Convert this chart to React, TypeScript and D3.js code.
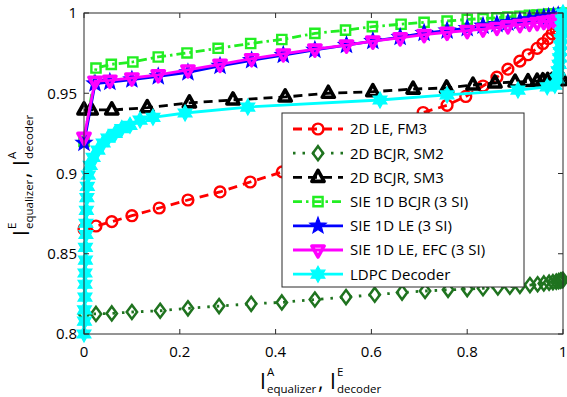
import React from 'react';
import * as d3 from 'd3';

const W = 567;
const H = 397;

const xTicks = [0, 0.2, 0.4, 0.6, 0.8, 1];
const xTickLabels = ['0', '0.2', '0.4', '0.6', '0.8', '1'];
const yTicks = [0.8, 0.85, 0.9, 0.95, 1];
const yTickLabels = ['0.8', '0.85', '0.9', '0.95', '1'];

const seriesNames = [
  '2D LE, FM3',
  '2D BCJR, SM2',
  '2D BCJR, SM3',
  'SIE 1D BCJR (3 SI)',
  'SIE 1D LE (3 SI)',
  'SIE 1D LE, EFC (3 SI)',
  'LDPC Decoder',
];

// 2D LE, FM3
const leFm3X = [0, 0.025, 0.058, 0.10, 0.157, 0.217, 0.284, 0.347, 0.414, 0.482, 0.547, 0.607, 0.660, 0.708, 0.758, 0.797, 0.833, 0.862, 0.885, 0.910, 0.927, 0.946, 0.958, 0.969, 0.977, 0.985, 0.991];
const leFm3Y = [0.8654, 0.8673, 0.870, 0.8737, 0.8785, 0.8835, 0.8885, 0.8947, 0.901, 0.909, 0.917, 0.925, 0.932, 0.938, 0.9425, 0.948, 0.9545, 0.960, 0.965, 0.970, 0.974, 0.978, 0.981, 0.984, 0.987, 0.990, 0.992];

// 2D BCJR, SM2
const sm2X = [0, 0.025, 0.058, 0.10, 0.159, 0.217, 0.282, 0.349, 0.413, 0.482, 0.547, 0.607, 0.664, 0.712, 0.760, 0.800, 0.833, 0.864, 0.889, 0.910, 0.931, 0.947, 0.960, 0.971, 0.979, 0.986, 0.991, 0.995, 0.998, 1.0];
const sm2Y = [0.8125, 0.8125, 0.8128, 0.8137, 0.8145, 0.816, 0.8174, 0.8188, 0.8197, 0.8215, 0.823, 0.8245, 0.8258, 0.8268, 0.8275, 0.828, 0.8285, 0.829, 0.8295, 0.830, 0.8305, 0.831, 0.8315, 0.832, 0.8323, 0.8326, 0.833, 0.8333, 0.8335, 0.8337];

// 2D BCJR, SM3
const sm3X = [0, 0.015, 0.058, 0.132, 0.22, 0.311, 0.42, 0.51, 0.603, 0.687, 0.757, 0.812, 0.858, 0.90, 0.927, 0.946, 0.958, 0.968, 0.977, 0.985, 0.992, 1.0];
const sm3Y = [0.9396, 0.9396, 0.9396, 0.941, 0.944, 0.9458, 0.9477, 0.950, 0.951, 0.9526, 0.9533, 0.9551, 0.9564, 0.957, 0.9573, 0.9576, 0.9578, 0.958, 0.958, 0.958, 0.958, 0.958];

// SIE 1D BCJR (3 SI)
const sieBcjrX = [0, 0.025, 0.057, 0.102, 0.155, 0.215, 0.28, 0.348, 0.413, 0.482, 0.546, 0.602, 0.662, 0.71, 0.758, 0.8, 0.833, 0.862, 0.885, 0.91, 0.93, 0.946, 0.96, 0.97, 0.98, 0.99, 1.0];
const sieBcjrY = [0.920, 0.9657, 0.968, 0.9695, 0.9726, 0.9751, 0.978, 0.981, 0.9835, 0.9873, 0.9893, 0.9915, 0.993, 0.9942, 0.995, 0.996, 0.9965, 0.997, 0.9975, 0.998, 0.9985, 0.9988, 0.999, 0.9993, 0.9995, 0.9997, 1.0];

// SIE 1D LE (3 SI)
const sieLeX = [0, 0.023, 0.054, 0.10, 0.155, 0.217, 0.284, 0.35, 0.416, 0.482, 0.548, 0.603, 0.66, 0.71, 0.758, 0.8, 0.833, 0.862, 0.885, 0.91, 0.93, 0.946, 0.96, 0.97, 0.98, 0.99, 1.0];
const sieLeY = [0.919, 0.956, 0.957, 0.9585, 0.9605, 0.963, 0.967, 0.9705, 0.9738, 0.977, 0.980, 0.9825, 0.985, 0.9875, 0.989, 0.9905, 0.992, 0.993, 0.994, 0.995, 0.996, 0.9965, 0.997, 0.9975, 0.998, 0.9985, 0.999];

// SIE 1D LE, EFC (3 SI)
const sieEfcX = [0, 0.023, 0.054, 0.10, 0.155, 0.217, 0.284, 0.35, 0.416, 0.482, 0.548, 0.603, 0.66, 0.71, 0.758, 0.8, 0.833, 0.862, 0.885, 0.91, 0.93, 0.946, 0.96, 0.97, 0.98, 0.99, 1.0];
const sieEfcY = [0.9225, 0.9575, 0.958, 0.9595, 0.9615, 0.9645, 0.968, 0.9715, 0.9745, 0.9775, 0.980, 0.9825, 0.9845, 0.9865, 0.988, 0.989, 0.990, 0.991, 0.992, 0.9928, 0.9935, 0.994, 0.9947, 0.995, 0.9955, 0.996, 0.997];

// LDPC Decoder
const ldpcX = [0.000, 0.001, 0.001, 0.002, 0.002, 0.002, 0.003, 0.003, 0.004, 0.004, 0.005, 0.006, 0.007, 0.009, 0.013, 0.019, 0.029, 0.040, 0.050, 0.065, 0.079, 0.096, 0.117, 0.144, 0.211, 0.342, 0.618, 0.758, 0.906, 0.967, 0.983, 0.988, 0.990, 0.992, 0.993, 0.994, 0.995, 0.996, 0.997, 0.998, 0.999, 1.000];
const ldpcY = [0.800, 0.808, 0.815, 0.823, 0.831, 0.838, 0.846, 0.854, 0.862, 0.869, 0.877, 0.885, 0.892, 0.899, 0.905, 0.910, 0.9146, 0.919, 0.922, 0.925, 0.928, 0.930, 0.9333, 0.935, 0.9377, 0.9414, 0.9458, 0.949, 0.952, 0.954, 0.955, 0.959, 0.964, 0.968, 0.972, 0.976, 0.980, 0.984, 0.988, 0.992, 0.996, 1.000];

const seriesXs = [leFm3X, sm2X, sm3X, sieBcjrX, sieLeX, sieEfcX, ldpcX];
const seriesYs = [leFm3Y, sm2Y, sm3Y, sieBcjrY, sieLeY, sieEfcY, ldpcY];
const seriesColors = ['#ff0000', '#1f731f', '#000000', '#22ee22', '#0000ff', '#ff00ff', '#00ffff'];
const seriesDash = ['9,6', '2.5,7', '9,6', '9,4,2.5,4', null, null, null];
const seriesMarkers = ['circle', 'diamond', 'triangleUp', 'square', 'pentagram', 'triangleDown', 'hexagram'];

const FONT = '"Open Sans", "DejaVu Sans", sans-serif';
const AXIS = '#2b2b2b';

function starPath(n: number, R: number, r: number): string {
  const pts: [number, number][] = [];
  for (let i = 0; i < 2 * n; i++) {
    const a = -Math.PI / 2 + (i * Math.PI) / n;
    const rad = i % 2 === 0 ? R : r;
    pts.push([rad * Math.cos(a), rad * Math.sin(a)]);
  }
  return 'M' + pts.map((p) => p[0].toFixed(2) + ',' + p[1].toFixed(2)).join('L') + 'Z';
}

function Marker({ type, color, cx, cy }: { type: string; color: string; cx: number; cy: number }) {
  const t = `translate(${cx},${cy})`;
  switch (type) {
    case 'circle':
      return <circle cx={cx} cy={cy} r={5.4} fill="none" stroke={color} strokeWidth={2.4} />;
    case 'diamond':
      return <path transform={t} d="M0,-7L5.2,0L0,7L-5.2,0Z" fill="none" stroke={color} strokeWidth={2.5} />;
    case 'triangleUp':
      return <path transform={t} d="M0,-7L6.1,4L-6.1,4Z" fill="none" stroke={color} strokeWidth={3.6} strokeLinejoin="round" />;
    case 'triangleDown':
      return <path transform={t} d="M0,7L6.1,-4L-6.1,-4Z" fill="none" stroke={color} strokeWidth={3.6} strokeLinejoin="round" />;
    case 'square':
      return <path transform={t} d="M-4.6,-4.6h9.2v9.2h-9.2Z" fill="none" stroke={color} strokeWidth={2.4} />;
    case 'pentagram':
      return <path transform={t} d={starPath(5, 8.5, 3.6)} fill={color} stroke={color} strokeWidth={1.2} />;
    case 'hexagram':
      return <path transform={t} d={starPath(6, 8, 4.6)} fill={color} stroke={color} strokeWidth={1.2} />;
    default:
      return null;
  }
}

function AxisLabel({ tx, ty, rotate, sup1, sub1, sup2, sub2 }: any) {
  const big = 21;
  const small = 11.5;
  return (
    <g transform={`translate(${tx},${ty})${rotate ? ' rotate(-90)' : ''}`} fontFamily={FONT} fill="#000">
      <text x={0} y={0} fontSize={big}>I</text>
      <text x={7} y={-13} fontSize={small}>{sup1}</text>
      <text x={7} y={4} fontSize={small}>{sub1}</text>
      <text x={58} y={0} fontSize={big}>,</text>
      <text x={70} y={0} fontSize={big}>I</text>
      <text x={77} y={-13} fontSize={small}>{sup2}</text>
      <text x={77} y={4} fontSize={small}>{sub2}</text>
    </g>
  );
}

export default function App() {
  const x = d3.scaleLinear().domain([0, 1]).range([84, 563]);
  const y = d3.scaleLinear().domain([0.8, 1]).range([334, 13]);
  const [x0, x1] = x.range();
  const [y0, y1] = y.range();

  const line = d3
    .line<[number, number]>()
    .x((d) => x(d[0]))
    .y((d) => y(d[1]));

  const legX = 282;
  const legY = 113;
  const legW = 242;
  const legH = 174;

  return (
    <svg width={W} height={H} style={{ position: 'absolute', left: 0, top: 0, background: '#fff' }}>
      <rect x={0} y={0} width={W} height={H} fill="#fff" />
      {seriesXs.map((xs, i) => {
        const pts: [number, number][] = xs.map((v, j) => [v, seriesYs[i][j]]);
        return (
          <g key={i}>
            <path
              d={line(pts) || ''}
              fill="none"
              stroke={seriesColors[i]}
              strokeWidth={2.8}
              strokeDasharray={seriesDash[i] || undefined}
            />
            {pts.map((p, j) => (
              <Marker key={j} type={seriesMarkers[i]} color={seriesColors[i]} cx={x(p[0])} cy={y(p[1])} />
            ))}
          </g>
        );
      })}
      <rect x={x0} y={y1} width={x1 - x0} height={y0 - y1} fill="none" stroke={AXIS} strokeWidth={1} />
      {xTicks.map((t, i) => (
        <g key={'xt' + i}>
          <line x1={x(t)} x2={x(t)} y1={y0} y2={y0 - 5} stroke={AXIS} />
          <line x1={x(t)} x2={x(t)} y1={y1} y2={y1 + 5} stroke={AXIS} />
          <text x={x(t)} y={357} fontSize={15} fontFamily={FONT} textAnchor="middle" fill="#000">
            {xTickLabels[i]}
          </text>
        </g>
      ))}
      {yTicks.map((t, i) => (
        <g key={'yt' + i}>
          <line x1={x0} x2={x0 + 5} y1={y(t)} y2={y(t)} stroke={AXIS} />
          <line x1={x1} x2={x1 - 5} y1={y(t)} y2={y(t)} stroke={AXIS} />
          <text x={77} y={y(t) + 5.3} fontSize={15} fontFamily={FONT} textAnchor="end" fill="#000">
            {yTickLabels[i]}
          </text>
        </g>
      ))}
      <AxisLabel tx={260} ty={389} rotate={false} sup1="A" sub1="equalizer" sup2="E" sub2="decoder" />
      <AxisLabel tx={29} ty={236} rotate={true} sup1="E" sub1="equalizer" sup2="A" sub2="decoder" />
      <rect x={legX} y={legY} width={legW} height={legH} fill="#fff" stroke={AXIS} strokeWidth={1} />
      {seriesNames.map((name, i) => {
        const cy = legY + 16 + i * 24.2;
        return (
          <g key={'lg' + i}>
            <line
              x1={legX + 11}
              x2={legX + 61}
              y1={cy}
              y2={cy}
              stroke={seriesColors[i]}
              strokeWidth={2.8}
              strokeDasharray={seriesDash[i] || undefined}
            />
            <Marker type={seriesMarkers[i]} color={seriesColors[i]} cx={legX + 36} cy={cy} />
            <text x={legX + 68} y={cy + 5.3} fontSize={15} fontFamily={FONT} fill="#000">
              {name}
            </text>
          </g>
        );
      })}
    </svg>
  );
}
